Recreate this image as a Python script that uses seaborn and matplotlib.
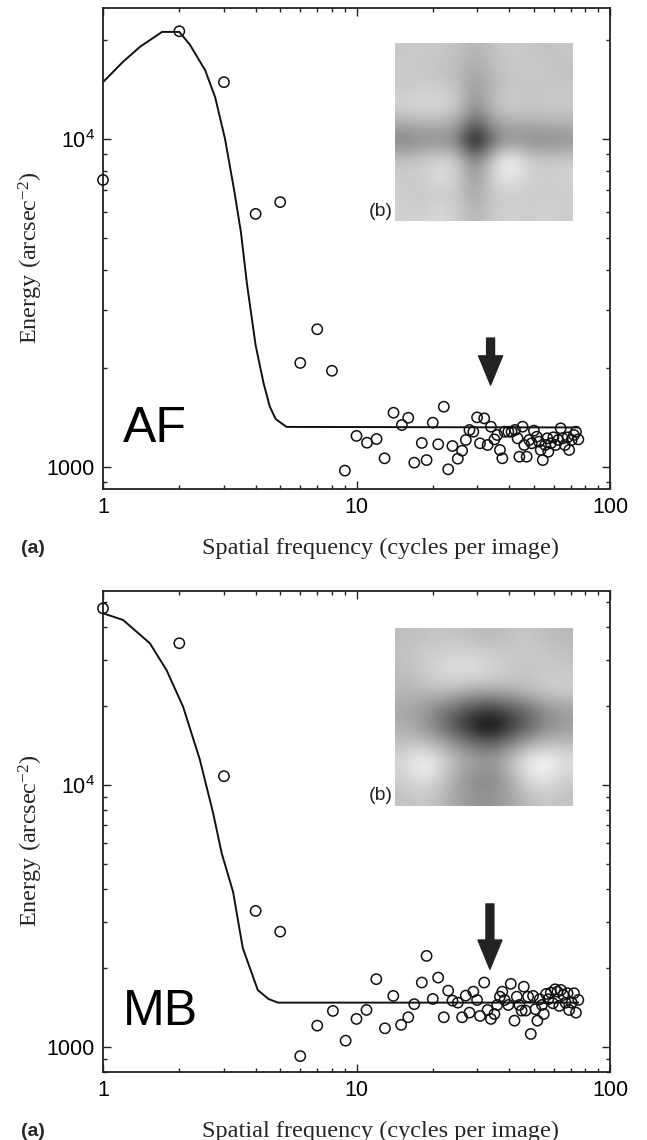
import numpy as np
import pandas as pd
import matplotlib
matplotlib.use("Agg")
import matplotlib.pyplot as plt
import seaborn as sns
from matplotlib.ticker import LogLocator, FuncFormatter, NullFormatter

# ---------------- data ----------------
af_freq = [1, 2, 3, 4, 5, 6, 7, 8, 9, 10, 11, 12, 12.9, 14.0, 15.1, 16.0, 16.9, 18.1, 18.9,
           20.0, 21.0, 22.1, 23.0, 23.9, 25.1, 26.1, 27.0, 27.9, 28.9, 29.9, 30.7, 31.9,
           32.9, 33.9, 35.0, 35.9, 36.8, 37.6, 38.4, 39.7, 40.9, 42.2, 43.2, 43.9, 45.2,
           45.9, 46.9, 48.0, 49.1, 50.1, 51.4, 52.5, 53.3, 54.3, 55.5, 56.6, 57.1, 58.4,
           59.8, 61.0, 62.5, 63.9, 65.1, 66.4, 68.0, 69.0, 70.6, 72.1, 73.4, 75.0]
af_energy = [7500, 21300, 14900, 5910, 6420, 2076, 2630, 1965, 975, 1244, 1186, 1217, 1063,
             1464, 1343, 1413, 1031, 1184, 1050, 1365, 1173, 1527, 984, 1159, 1060, 1121,
             1209, 1297, 1281, 1417, 1181, 1407, 1167, 1327, 1214, 1252, 1127, 1063, 1281,
             1281, 1281, 1297, 1223, 1075, 1327, 1167, 1075, 1209, 1181, 1291, 1237, 1195,
             1127, 1050, 1167, 1223, 1113, 1181, 1232, 1167, 1209, 1312, 1223, 1167, 1232,
             1127, 1209, 1252, 1281, 1214]
af_fit_freq = [1, 1.2, 1.4, 1.71, 2.0, 2.2, 2.53, 2.77, 3.03, 3.3, 3.5, 3.7, 4.0, 4.3, 4.55,
               4.8, 5.3, 75]
af_fit_energy = [14900, 17200, 19100, 21200, 21200, 19400, 16200, 13400, 10000, 6900, 5200,
                 3600, 2350, 1800, 1528, 1400, 1325, 1320]

mb_freq = [1, 2, 3, 4, 5, 6, 7.0, 8.07, 9.06, 10.0, 10.95, 11.97, 12.95, 13.97, 15.0, 16.0,
           16.9, 18.1, 18.9, 20.0, 21.0, 22.1, 23.0, 23.9, 25.1, 26.1, 27.0, 27.9, 28.9,
           29.9, 30.7, 31.9, 32.9, 33.9, 35.0, 35.9, 36.8, 37.6, 38.4, 39.7, 40.6, 42.0,
           42.9, 43.9, 44.8, 45.7, 46.5, 47.5, 48.7, 49.7, 50.8, 51.7, 52.8, 53.9, 54.8,
           56.0, 57.1, 58.4, 59.5, 60.7, 62.0, 63.1, 64.0, 65.4, 66.8, 68.0, 69.0, 70.6,
           72.1, 73.4, 75.0]
mb_energy = [47300, 34800, 10800, 3300, 2750, 920, 1203, 1369, 1054, 1276, 1381, 1811, 1175,
             1563, 1211, 1295, 1453, 1758, 2222, 1521, 1836, 1295, 1637, 1499, 1473, 1295,
             1567, 1349, 1622, 1507, 1310, 1758, 1381, 1276, 1333, 1443, 1552, 1622, 1507,
             1443, 1738, 1257, 1552, 1443, 1373, 1695, 1373, 1552, 1118, 1563, 1390, 1257,
             1517, 1443, 1333, 1590, 1517, 1608, 1465, 1656, 1622, 1431, 1647, 1576, 1472,
             1600, 1381, 1472, 1600, 1349, 1508]
mb_fit_freq = [1, 1.2, 1.53, 1.78, 2.07, 2.41, 2.72, 2.94, 3.26, 3.56, 4.08, 4.5, 4.9, 75]
mb_fit_energy = [45300, 42700, 34800, 27500, 19900, 12500, 7800, 5480, 3900, 2380, 1645,
                 1520, 1473, 1473]

# arrows (frequency, energy of tail, energy of tip)
af_arrow = (33.8, 2472, 1778)
mb_arrow = (33.6, 3510, 1977)

# inset images (gray level, rows top -> bottom)
af_img = [
    [0.78, 0.80, 0.78, 0.76, 0.70, 0.76, 0.80, 0.78, 0.76, 0.78],
    [0.80, 0.78, 0.76, 0.74, 0.64, 0.74, 0.78, 0.80, 0.78, 0.76],
    [0.78, 0.80, 0.80, 0.76, 0.60, 0.72, 0.78, 0.76, 0.78, 0.78],
    [0.84, 0.86, 0.86, 0.80, 0.56, 0.74, 0.82, 0.78, 0.80, 0.80],
    [0.68, 0.70, 0.70, 0.66, 0.36, 0.62, 0.68, 0.68, 0.70, 0.70],
    [0.50, 0.54, 0.55, 0.50, 0.00, 0.44, 0.56, 0.54, 0.52, 0.56],
    [0.76, 0.78, 0.84, 0.80, 0.48, 0.80, 1.00, 0.80, 0.78, 0.80],
    [0.80, 0.80, 0.88, 0.82, 0.58, 0.84, 0.92, 0.82, 0.80, 0.82],
    [0.80, 0.78, 0.80, 0.78, 0.64, 0.78, 0.80, 0.80, 0.80, 0.80],
    [0.82, 0.80, 0.86, 0.80, 0.70, 0.80, 0.82, 0.80, 0.82, 0.80],
]
mb_img = [
    [0.74, 0.76, 0.78, 0.76, 0.74, 0.72, 0.76, 0.78, 0.74, 0.72],
    [0.76, 0.80, 0.80, 0.84, 0.82, 0.80, 0.78, 0.80, 0.78, 0.76],
    [0.74, 0.78, 0.86, 0.88, 0.88, 0.84, 0.80, 0.76, 0.80, 0.78],
    [0.72, 0.74, 0.76, 0.74, 0.70, 0.70, 0.72, 0.76, 0.80, 0.82],
    [0.66, 0.62, 0.52, 0.42, 0.32, 0.28, 0.36, 0.46, 0.58, 0.64],
    [0.68, 0.60, 0.46, 0.28, 0.08, 0.00, 0.20, 0.36, 0.52, 0.60],
    [0.76, 0.76, 0.68, 0.56, 0.44, 0.40, 0.52, 0.66, 0.74, 0.74],
    [0.84, 0.98, 0.88, 0.72, 0.64, 0.62, 0.76, 0.94, 1.00, 0.88],
    [0.80, 0.90, 0.80, 0.64, 0.54, 0.52, 0.66, 0.86, 0.90, 0.80],
    [0.76, 0.78, 0.74, 0.64, 0.58, 0.58, 0.64, 0.74, 0.78, 0.76],
]

x_ticks = [1, 10, 100]
x_tick_labels = ["1", "10", "100"]

# ---------------- style ----------------
sns.set_style("ticks")
plt.rcParams["font.family"] = ["Liberation Sans", "DejaVu Sans"]

W, H = 647, 1140
fig = plt.figure(figsize=(W / 100, H / 100), dpi=100)


def px_axes(left, top, right, bottom):
    return fig.add_axes([left / W, 1 - bottom / H, (right - left) / W, (bottom - top) / H])


def style_axes(ax, ylim):
    ax.set_xscale("log")
    ax.set_yscale("log")
    ax.set_xlim(1, 100)
    ax.set_ylim(*ylim)
    ax.set_xticks(x_ticks)
    ax.set_xticklabels(x_tick_labels)
    ax.xaxis.set_minor_locator(LogLocator(base=10, subs=np.arange(2, 10)))
    ax.xaxis.set_minor_formatter(NullFormatter())
    ax.yaxis.set_major_locator(LogLocator(base=10))
    ax.yaxis.set_minor_locator(LogLocator(base=10, subs=np.arange(2, 10)))
    ax.yaxis.set_minor_formatter(NullFormatter())
    ax.yaxis.set_major_formatter(FuncFormatter(
        lambda v, p: "1000" if abs(v - 1000) < 1 else (r"$\mathregular{10^4}$" if abs(v - 1e4) < 1 else "")))
    for s in ax.spines.values():
        s.set_visible(True)
        s.set_linewidth(1.3)
        s.set_color("#222222")
    ax.tick_params(which="both", direction="in", top=True, right=True, colors="#222222",
                   labelcolor="black", width=1.0)
    ax.tick_params(which="major", length=6, labelsize=15.5, pad=6)
    ax.tick_params(which="minor", length=3.2)
    ax.set_xlabel("")
    ax.set_ylabel("")


def panel(ax, freq, energy, fit_f, fit_e, arrow, img, name, ylim, inset_top):
    df = pd.DataFrame({"f": freq, "E": energy})
    fit = pd.DataFrame({"f": fit_f, "E": fit_e})
    sns.lineplot(data=fit, x="f", y="E", ax=ax, color="#111111", lw=1.4,
                 sort=False, estimator=None)
    sns.scatterplot(data=df, x="f", y="E", ax=ax, marker="o", s=55,
                    facecolor="none", edgecolor="#111111", linewidth=1.1, zorder=3,
                    clip_on=False)
    style_axes(ax, ylim)
    fa, e0, e1 = arrow
    ax.annotate("", xy=(fa, e1), xytext=(fa, e0),
                arrowprops=dict(arrowstyle="simple,head_width=1.15,head_length=1.4,tail_width=0.38",
                                color="#222222", shrinkA=0, shrinkB=0, mutation_scale=15))
    ax.text(0.04, 0.125, name, transform=ax.transAxes, fontsize=36, ha="left", va="center",
            color="black")
    ax.text(0.548, -0.123, "Spatial frequency (cycles per image)", transform=ax.transAxes,
            ha="center", va="center", fontsize=17.5, family=["Liberation Serif", "DejaVu Serif"])
    ax.text(-0.142, 0.48, r"Energy (arcsec$\mathregular{^{-2}}$)", transform=ax.transAxes,
            ha="center", va="center", rotation=90, fontsize=17.5,
            family=["Liberation Serif", "DejaVu Serif"])
    ax.text(-0.162, -0.123, "(a)", transform=ax.transAxes, ha="left", va="center",
            fontsize=14, fontweight="bold")
    # inset
    iax = px_axes(395, inset_top, 572, inset_top + 178)
    iax.imshow(np.array(img), cmap="gray", vmin=0, vmax=1, interpolation="bicubic",
               aspect="auto")
    iax.axis("off")
    fig.text(393 / W, 1 - (inset_top + 168) / H, "(b)", ha="right", va="center", fontsize=14)


ax1 = px_axes(103, 8, 610, 489)
panel(ax1, af_freq, af_energy, af_fit_freq, af_fit_energy, af_arrow, af_img, "AF",
      (857, 25075), 43)

ax2 = px_axes(103, 591, 610, 1072)
panel(ax2, mb_freq, mb_energy, mb_fit_freq, mb_fit_energy, mb_arrow, mb_img, "MB",
      (800, 55100), 628)

fig.savefig("out.png", dpi=100)
